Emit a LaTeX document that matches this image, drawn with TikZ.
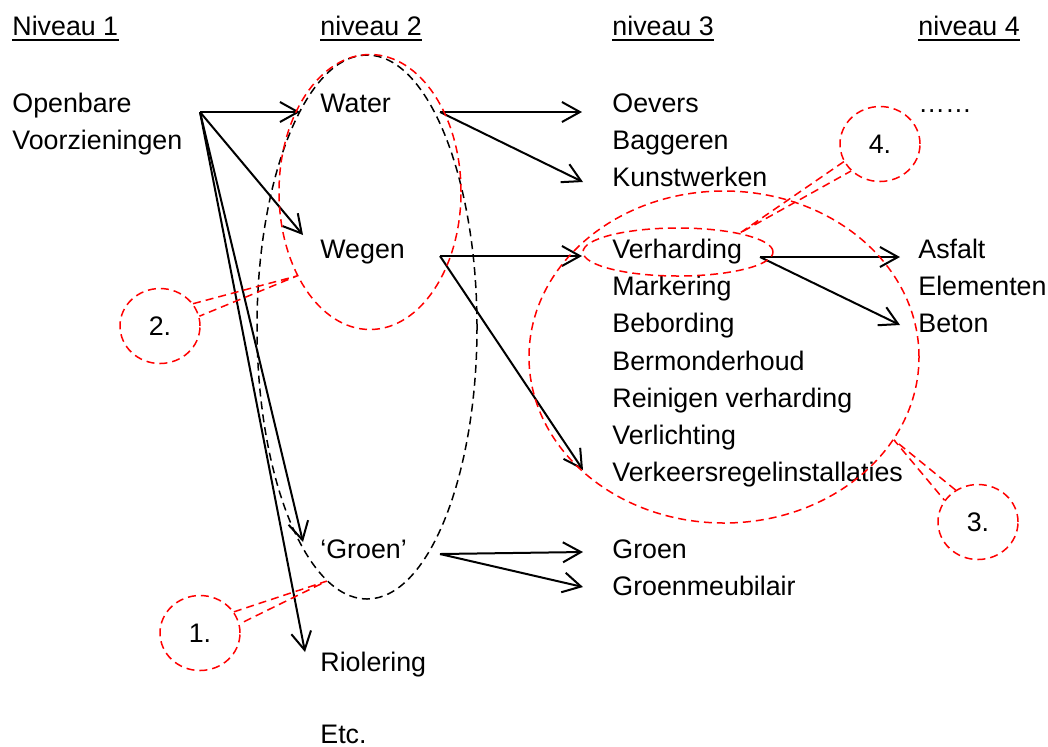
\documentclass[tikz,border=0pt]{standalone}
\usepackage{fontspec}
\setmainfont{Liberation Sans}
\usetikzlibrary{arrows.meta,shapes.geometric}

\tikzset{
  item/.style={anchor=base west, inner sep=0pt},
  arr/.style={line width=1pt, -{Straight Barb[length=9pt,width=10pt]}},
  ring/.style={draw, ellipse, inner sep=0pt, line width=0.75pt, dash pattern=on 4pt off 2.5pt},
  redring/.style={ring, draw=red},
  bubble/.style={redring, text=black, minimum width=40pt, minimum height=37.5pt},
  tail/.style={red, line width=0.75pt, dash pattern=on 4pt off 2.5pt},
}

\begin{document}
\begin{tikzpicture}[x=0.5pt, y=-0.5pt, font=\fontsize{13.4}{16}\selectfont]
    \useasboundingbox (0,0) rectangle (1048,746);

    % Headers
    \node[item] (h1) at (12,35) {Niveau 1};
    \node[item] (h2) at (320,35) {niveau 2};
    \node[item] (h3) at (612,35) {niveau 3};
    \node[item] (h4) at (918,35) {niveau 4};
    \foreach \h in {h1,h2,h3,h4}
        \draw[line width=1pt] ([yshift=-2.5pt]\h.base west) -- ([yshift=-2.5pt]\h.base east);

    % Niveau 1
    \node[item] (ov1) at (12,112) {Openbare};
    \node[item] (ov2) at (12,149) {Voorzieningen};

    % Niveau 2
    \node[item] (water) at (320,112) {Water};
    \node[item] (wegen) at (320,258) {Wegen};
    \node[item] (groen) at (320,558) {`Groen'};
    \node[item] (riool) at (320,671) {Riolering};
    \node[item] (etc) at (320,743) {Etc.};

    % Niveau 3
    \node[item] (oevers) at (612,112) {Oevers};
    \node[item] (bagger) at (612,149) {Baggeren};
    \node[item] (kunst) at (612,186) {Kunstwerken};
    \node[item] (verh) at (612,258) {Verharding};
    \node[item] (mark) at (612,295) {Markering};
    \node[item] (bebord) at (612,332) {Bebording};
    \node[item] (berm) at (612,370) {Bermonderhoud};
    \node[item] (reinig) at (612,407) {Reinigen verharding};
    \node[item] (verl) at (612,444) {Verlichting};
    \node[item] (vri) at (612,481) {Verkeersregelinstallaties};
    \node[item] (groen3) at (612,558) {Groen};
    \node[item] (meub) at (612,595) {Groenmeubilair};

    % Niveau 4
    \node[item] (dots) at (918,112) {……};
    \node[item] (asfalt) at (918,258) {Asfalt};
    \node[item] (elem) at (918,295) {Elementen};
    \node[item] (beton) at (918,332) {Beton};

    % Arrow ends
    \coordinate (ovout) at (200,112);
    \coordinate (waterout) at (440,112);
    \coordinate (wegenout) at (440,256);
    \coordinate (groenout) at (440,554);
    \coordinate (verhout) at (760,257);
    \coordinate (waterin) at (300,112);
    \coordinate (wegenin) at (303,235);
    \coordinate (groenin) at (303,542);
    \coordinate (rioolin) at (305,652);
    \coordinate (oeversin) at (582,112);
    \coordinate (kunstin) at (583,182);
    \coordinate (verhin) at (582,256);
    \coordinate (vriin) at (583,470);
    \coordinate (groen3in) at (583,552);
    \coordinate (meubin) at (583,587);
    \coordinate (asfaltin) at (900,257);
    \coordinate (betonin) at (900,325);

    \draw[arr] (ovout) -- (waterin);
    \draw[arr] (ovout) -- (wegenin);
    \draw[arr] (ovout) -- (groenin);
    \draw[arr] (ovout) -- (rioolin);
    \draw[arr] (waterout) -- (oeversin);
    \draw[arr] (waterout) -- (kunstin);
    \draw[arr] (wegenout) -- (verhin);
    \draw[arr] (wegenout) -- (vriin);
    \draw[arr] (groenout) -- (groen3in);
    \draw[arr] (groenout) -- (meubin);
    \draw[arr] (verhout) -- (asfaltin);
    \draw[arr] (verhout) -- (betonin);

    % Rings
    \node[ring, minimum width=110pt, minimum height=272pt] (lvl2) at (367,327) {};
    \node[redring, minimum width=91pt, minimum height=137.5pt] (waterweg) at (370,192) {};
    \node[redring, minimum width=195pt, minimum height=166pt] (wegitems) at (724,357) {};
    \node[redring, minimum width=95pt, minimum height=24pt] (verhring) at (678,252) {};

    % Callouts
    \node[bubble] (c1) at (200,633) {1.};
    \node[bubble] (c2) at (160,326) {2.};
    \node[bubble] (c3) at (978,522) {3.};
    \node[bubble] (c4) at (880,144) {4.};
    \draw[tail] (c1.32) -- (lvl2.261) -- (c1.13);
    \draw[tail] (c2.34) -- (waterweg.229) -- (c2.14);
    \draw[tail] (c3.125) -- (wegitems.334) -- (c3.147);
    \draw[tail] (c4.206) -- (verhring.17) -- (c4.223);
\end{tikzpicture}
\end{document}
